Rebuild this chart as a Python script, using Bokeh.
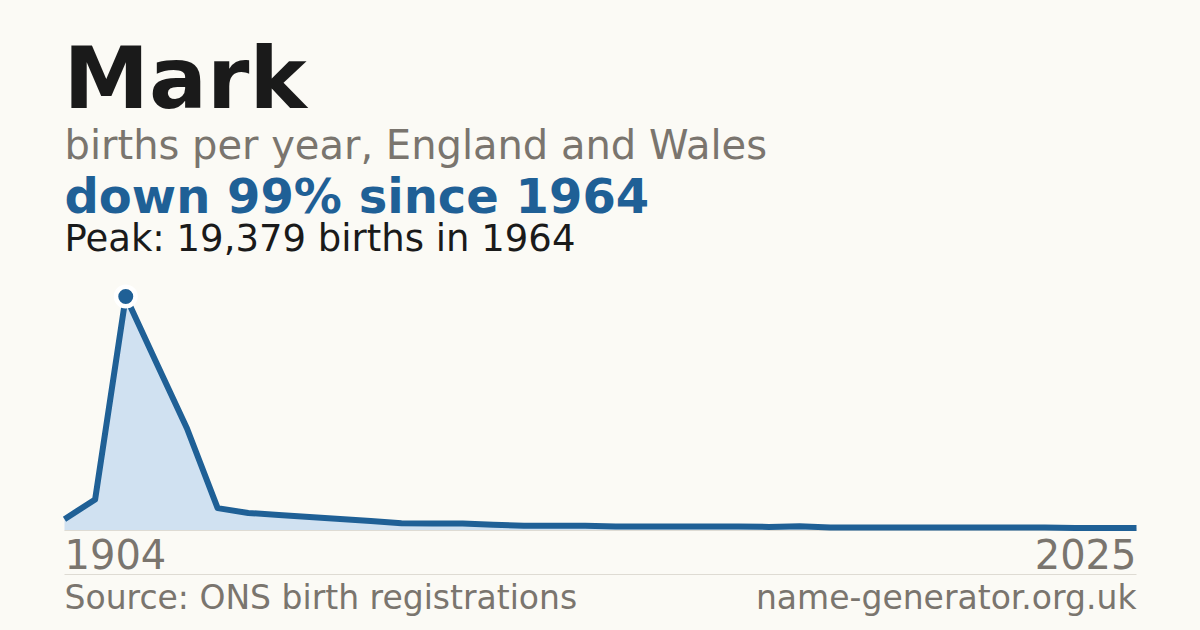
from bokeh.plotting import figure
from bokeh.models import Range1d, Label
from bokeh.embed import file_html
from bokeh.resources import INLINE

# ---- data ----
years = [1904, 1934, 1964, 1974, 1984, 1994, 1996, 1997, 1998, 1999, 2000, 2001,
         2002, 2003, 2004, 2005, 2006, 2007, 2008, 2009, 2010, 2011, 2012, 2013,
         2014, 2015, 2016, 2017, 2018, 2019, 2020, 2021, 2022, 2023, 2024, 2025]
births = [940, 2570, 19379, 13900, 8450, 1850, 1450, 1290, 1120, 950, 780, 600,
          590, 585, 480, 390, 390, 385, 330, 330, 328, 330, 332, 300,
          345, 255, 252, 250, 250, 248, 250, 252, 250, 207, 205, 203]
name = "Mark"
subtitle = "births per year, England and Wales"
source = "Source: ONS birth registrations"
site = "name-generator.org.uk"

idx = list(range(len(years)))
peak_i = max(idx, key=lambda i: births[i])
peak_v = births[peak_i]
peak_y = years[peak_i]
last_v = births[-1]
drop = round((1 - last_v / peak_v) * 100)

BG = "#fbfaf5"
BLUE = "#1f6096"
FILL = "#d0e1f1"
GREY = "#7a756e"
DARK = "#1a1a1a"
RULE = "#dedbd3"
FONT = "DejaVu Sans"

# page-pixel layout mapping (canvas sits at page origin)
OFF = 0
W, H = 1200, 630
X0, X1 = 64, 1136          # page x of first / last point
Y0, YP = 530, 296          # page y of zero and of the peak
n = len(years) - 1
DX = (X1 - X0) / n
VS = peak_v / (Y0 - YP)

def px(x):  # page x -> data x
    return (x - X0) / DX

def py(y):  # page y -> data y
    return (Y0 - y) * VS

p = figure(width=W, height=H, output_backend="svg", toolbar_location=None,
           x_range=Range1d(px(OFF), px(OFF + W)), y_range=Range1d(py(OFF + H), py(OFF)),
           x_axis_type=None, y_axis_type=None, min_border=0,
           background_fill_color=BG, border_fill_color=BG, outline_line_color=None)
p.grid.visible = False

p.varea(x=idx, y1=[0] * len(idx), y2=births, fill_color=FILL)
p.segment(x0=[idx[0]], y0=[0], x1=[idx[-1]], y1=[0], line_color=RULE, line_width=1)
p.line(idx, births, line_color=BLUE, line_width=6, line_join="round")
p.scatter([peak_i], [peak_v], size=24, fill_color="white", line_color=None)
p.scatter([peak_i], [peak_v], size=15, fill_color=BLUE, line_color=None)

# divider under the axis labels
p.segment(x0=[idx[0]], y0=[py(574)], x1=[idx[-1]], y1=[py(574)], line_color=RULE, line_width=1)

def lab(text, x, y, size, color, bold=False, align="left"):
    # y is the wanted baseline (page px); correct for the renderer's offset
    y_adj = y - 0.4 * size
    p.add_layout(Label(x=px(x), y=py(y_adj), text=text, text_font=FONT,
                       text_font_size=f"{size}px", text_color=color,
                       text_font_style="bold" if bold else "normal",
                       text_align=align, text_baseline="alphabetic"))

lab(name, 63, 112, 86, DARK, bold=True)
lab(subtitle, 64, 160, 40, GREY)
lab(f"down {drop}% since {peak_y}", 64, 215, 48, BLUE, bold=True)
lab(f"Peak: {peak_v:,} births in {peak_y}", 64, 253, 37, DARK)
lab(str(years[0]), 64, 569, 40, GREY)
lab(str(years[-1]), 1136, 569, 40, GREY, align="right")
lab(source, 64, 610, 33, GREY)
lab(site, 1136, 610, 33, GREY, align="right")

html = file_html(p, INLINE)
html = html.replace("<head>", "<head><style>body{background:%s;}</style>" % BG, 1)
open("out.html", "w").write(html)
